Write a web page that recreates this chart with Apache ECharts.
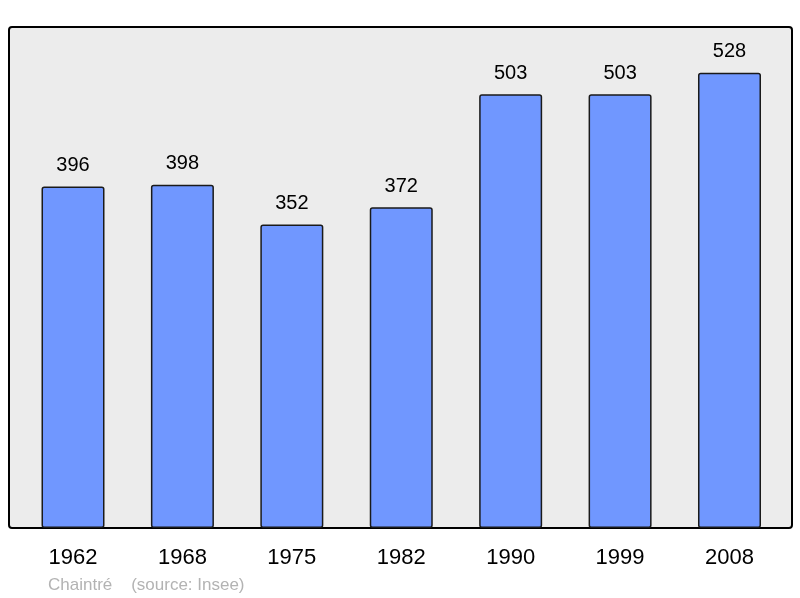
<!DOCTYPE html>
<html><head><meta charset="utf-8">
<script src="https://cdn.jsdelivr.net/npm/echarts@6/dist/echarts.min.js"></script>
<style>html,body{margin:0;padding:0;background:#fff}#c{width:800px;height:598px}</style>
</head><body><div id="c"></div>
<script>
const years = ['1962','1968','1975','1982','1990','1999','2008'];
const population = [396, 398, 352, 372, 503, 503, 528];
const footerText = 'Chaintré    (source: Insee)';

const chart = echarts.init(document.getElementById('c'), null, {renderer:'canvas'});
chart.setOption({
  animation: false,
  backgroundColor: '#ffffff',
  textStyle: {fontFamily: 'Liberation Sans, Arial, sans-serif'},
  graphic: [
    {type:'rect', z:-10, shape:{x:9, y:27, width:783, height:501, r:3},
     style:{fill:'#ececec', stroke:'#000', lineWidth:2}},
    {type:'text', left:48, top:577, style:{text: footerText, fill:'#b3b3b3', font:'17px "Liberation Sans", Arial, sans-serif'}}
  ],
  grid: {left:18.3, right:15.8, top:27, bottom:70},
  xAxis: {
    type:'category', data: years,
    axisLine:{show:false}, axisTick:{show:false},
    axisLabel:{color:'#000', fontSize:22, margin:19, fontFamily:'Liberation Sans, Arial, sans-serif'}
  },
  yAxis: {type:'value', min:0, max:581, show:false, splitLine:{show:false}},
  series: [{
    type:'bar', data: population, barWidth:63,
    itemStyle:{color:'#7097ff', borderColor:'#1a1a1a', borderWidth:1.5, borderRadius:2},
    label:{show:true, position:'top', distance:11, color:'#000', fontSize:20, fontFamily:'Liberation Sans, Arial, sans-serif'}
  }]
});
</script></body></html>
